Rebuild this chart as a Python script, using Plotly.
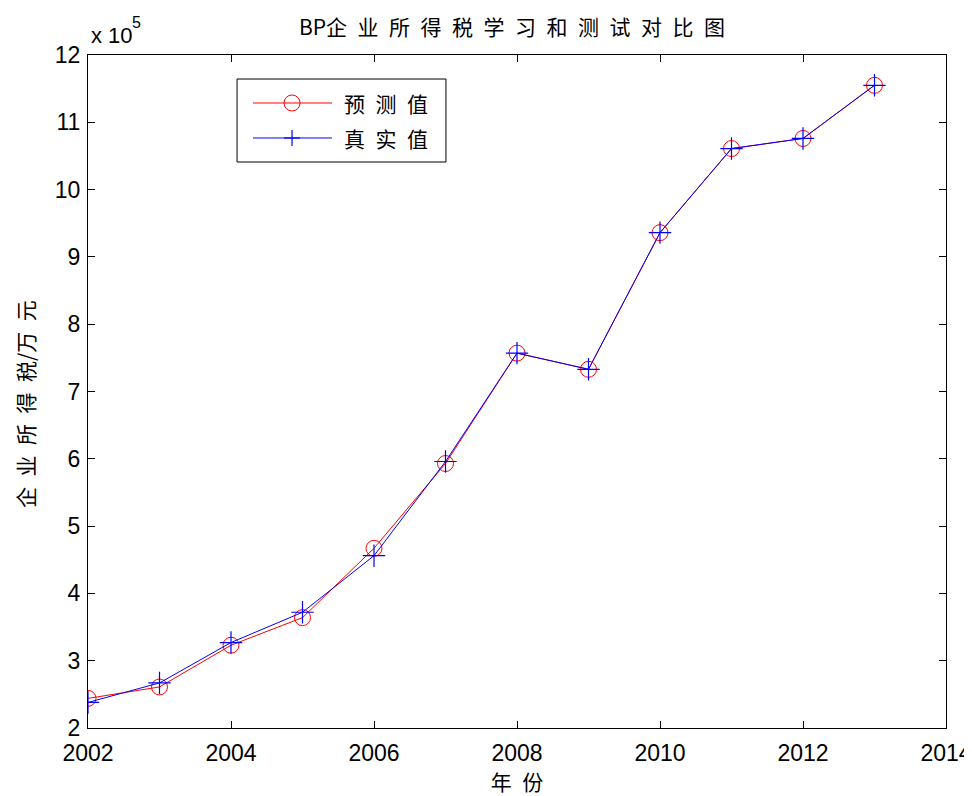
import plotly.graph_objects as go

years = [2002, 2003, 2004, 2005, 2006, 2007, 2008, 2009, 2010, 2011, 2012, 2013]
predicted = [244000, 261000, 323000, 364000, 467000, 593000, 757000, 733000, 936000, 1061000, 1076000, 1155000]
actual = [238000, 267000, 327000, 372000, 456000, 596000, 757000, 733000, 936000, 1061000, 1076000, 1155000]

x_ticks = [2002, 2004, 2006, 2008, 2010, 2012, 2014]
y_ticks = [200000 + 100000 * i for i in range(11)]
y_ticktext = [str(v // 100000) for v in y_ticks]

S = "\u2002"  # en space, mimics MATLAB's spaced CJK rendering
series_names = [S.join("预测值"), S.join("真实值")]
title_text = "BP" + S.join("企业所得税学习和测试对比图")
xlabel = S.join("年份")
ylabel = S.join("企业所得税") + "/" + S.join("万元")

cjk = "Noto Sans CJK SC, Liberation Sans, Arial, sans-serif"
num = "Liberation Sans, Arial, sans-serif"

fig = go.Figure()
fig.add_trace(go.Scatter(
    x=years, y=predicted, name=series_names[0], mode="lines+markers", showlegend=False,
    line=dict(color="red", width=1),
    marker=dict(symbol="circle-open", size=16, color="red", line=dict(width=1)),
))
fig.add_trace(go.Scatter(
    x=years, y=actual, name=series_names[1], mode="lines+markers", showlegend=False,
    line=dict(color="blue", width=1),
    marker=dict(symbol="cross-thin-open", size=16, color="blue", line=dict(width=1.2, color="blue")),
))

axis_common = dict(
    showline=True, linecolor="black", linewidth=1, mirror="ticks", automargin=False,
    ticks="inside", ticklen=7, tickcolor="black", showgrid=False, zeroline=False,
    tickfont=dict(family=num, size=23, color="black"),
)

# manual MATLAB-style legend (paper coordinates + pixel-sized markers)
lx0, lx1, ly0, ly1 = 0.1737, 0.4172, 0.841, 0.9643
rows = [0.9287, 0.8767]
shapes = [dict(type="rect", xref="paper", yref="paper", x0=lx0, x1=lx1, y0=ly0, y1=ly1,
               line=dict(color="black", width=1), fillcolor="white", layer="above")]
line_x0, line_x1, mark_x = 0.1923, 0.2844, 0.2378
colors = ["red", "blue"]
for ry, c in zip(rows, colors):
    shapes.append(dict(type="line", xref="paper", yref="paper", x0=line_x0, x1=line_x1, y0=ry, y1=ry,
                       line=dict(color=c, width=1), layer="above"))
shapes.append(dict(type="circle", xref="paper", yref="paper", xsizemode="pixel", ysizemode="pixel",
                   xanchor=mark_x, yanchor=rows[0], x0=-8, x1=8, y0=-8, y1=8,
                   line=dict(color="red", width=1), layer="above"))
shapes.append(dict(type="line", xref="paper", yref="paper", xsizemode="pixel", ysizemode="pixel",
                   xanchor=mark_x, yanchor=rows[1], x0=-8, x1=8, y0=0, y1=0,
                   line=dict(color="blue", width=1.2), layer="above"))
shapes.append(dict(type="line", xref="paper", yref="paper", xsizemode="pixel", ysizemode="pixel",
                   xanchor=mark_x, yanchor=rows[1], x0=0, x1=0, y0=-8, y1=8,
                   line=dict(color="blue", width=1.2), layer="above"))

annotations = [
    dict(text="x 10", xref="paper", yref="paper", x=0.0, y=1.0, xanchor="left", yanchor="middle",
         showarrow=False, xshift=1, yshift=20, font=dict(family=num, size=22, color="black")),
    dict(text="5", xref="paper", yref="paper", x=0.0, y=1.0, xanchor="left", yanchor="middle",
         showarrow=False, xshift=42, yshift=33, font=dict(family=num, size=16, color="black")),
    dict(text=ylabel, xref="paper", yref="paper", x=0.0, y=0.4814, xanchor="center", yanchor="middle",
         textangle=-90, showarrow=False, xshift=-63, font=dict(family=cjk, size=21, color="black")),
]
for ry, nm in zip(rows, series_names):
    annotations.append(dict(text=nm, xref="paper", yref="paper", x=0.2955, y=ry, xanchor="left",
                            yanchor="middle", showarrow=False,
                            font=dict(family=cjk, size=21, color="black")))

fig.update_layout(
    width=964, height=788,
    margin=dict(l=80, r=26, t=47, b=68),
    paper_bgcolor="white", plot_bgcolor="white",
    title=dict(text=title_text, x=0.5228, xanchor="center", y=0.9746, yanchor="middle",
               font=dict(family=cjk, size=21, color="black")),
    xaxis=dict(range=[2002, 2014], tickvals=x_ticks, ticklabelstandoff=4, **axis_common,
               title=dict(text=xlabel, font=dict(family=cjk, size=21, color="black"), standoff=9)),
    yaxis=dict(range=[200000, 1200000], tickvals=y_ticks, ticktext=y_ticktext, ticklabelstandoff=2,
               **axis_common),
    shapes=shapes,
    annotations=annotations,
    showlegend=False,
)

fig.write_html("out.html")
